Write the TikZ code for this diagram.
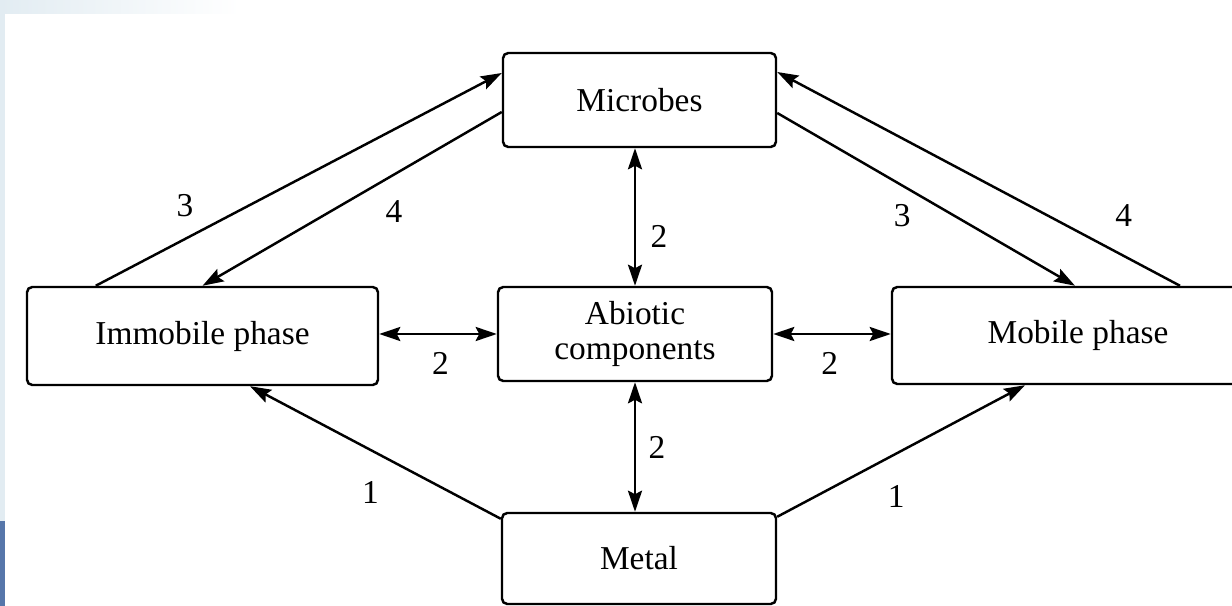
\documentclass[tikz,border=0pt]{standalone}
\usepackage{fontspec}
\setmainfont{Liberation Serif}
\usetikzlibrary{arrows.meta, calc, positioning}

\definecolor{slidebg}{RGB}{226,236,242}
\definecolor{slideblue}{RGB}{86,118,170}

\begin{document}
\begin{tikzpicture}[
    font=\fontsize{19}{23}\selectfont,
    box/.style={draw, line width=1.4pt, rounded corners=3pt, inner sep=0pt, align=center},
    arr/.style={line width=1.4pt, -{Stealth[length=12pt, width=8pt, inset=2pt]}},
    biarr/.style={line width=1.4pt, {Stealth[length=12pt, width=8pt, inset=2pt]}-{Stealth[length=12pt, width=8pt, inset=2pt]}},
    lbl/.style={inner sep=1pt}
]
\useasboundingbox (0,0) rectangle (24.64,12.12);

% slide background at the edges
\fill[slidebg] (0,0) rectangle (0.1,12.12);
\shade[left color=slidebg, right color=white] (0,11.84) rectangle (4.8,12.12);
\fill[slideblue] (0,0) rectangle (0.1,1.7);

\node[box, minimum width=5.46cm, minimum height=1.88cm] (micro) at (12.79, 10.12) {Microbes};
\node[box, minimum width=7.02cm, minimum height=1.96cm] (immo) at (4.05, 5.40) {Immobile phase};
\node[box, minimum width=5.48cm, minimum height=1.88cm] (abio) at (12.70, 5.44) {Abiotic\\[-3pt]components};
\node[box, minimum width=7.44cm, minimum height=1.94cm] (mobile) at (21.56, 5.41) {Mobile phase};
\node[box, minimum width=5.48cm, minimum height=1.82cm] (metal) at (12.78, 0.95) {Metal};

% uptake and release
\draw[arr] ([xshift=1.4cm]immo.north west) -- node[lbl, pos=.22, yshift=.66cm] (l3a) {3} ([yshift=.54cm]micro.west);
\draw[arr] ([yshift=-.24cm]micro.west) -- node[lbl, pos=.36, yshift=-.73cm] (l4a) {4} (immo.north);
\draw[arr] ([yshift=-.26cm]micro.east) -- node[lbl, pos=.42, yshift=-.6cm] (l3b) {3} ([xshift=-.06cm]mobile.north);
\draw[arr] ([xshift=2.04cm]mobile.north) -- node[lbl, pos=.14, yshift=.8cm] (l4b) {4} ([yshift=.56cm]micro.east);

% abiotic exchange
\draw[biarr] (abio.north) -- node[lbl, pos=.36, xshift=.48cm] (l2a) {2} (abio.north |- micro.south);
\draw[biarr] (abio.west) -- node[lbl, pos=.48, yshift=-.58cm] (l2b) {2} (abio.west -| immo.east);
\draw[biarr] (abio.east) -- node[lbl, pos=.48, yshift=-.58cm] (l2c) {2} (abio.east -| mobile.west);
\draw[biarr] (abio.south) -- node[lbl, pos=.5, xshift=.44cm] (l2d) {2} (abio.south |- metal.north);

% metal input
\draw[arr] ([yshift=-.14cm]metal.north west) -- node[lbl, pos=.52, yshift=-.86cm] (l1a) {1} ([xshift=.95cm]immo.south);
\draw[arr] ([yshift=-.10cm]metal.north east) -- node[lbl, pos=.48, yshift=-.86cm] (l1b) {1} ([xshift=-1.06cm]mobile.south);
\end{tikzpicture}
\end{document}
